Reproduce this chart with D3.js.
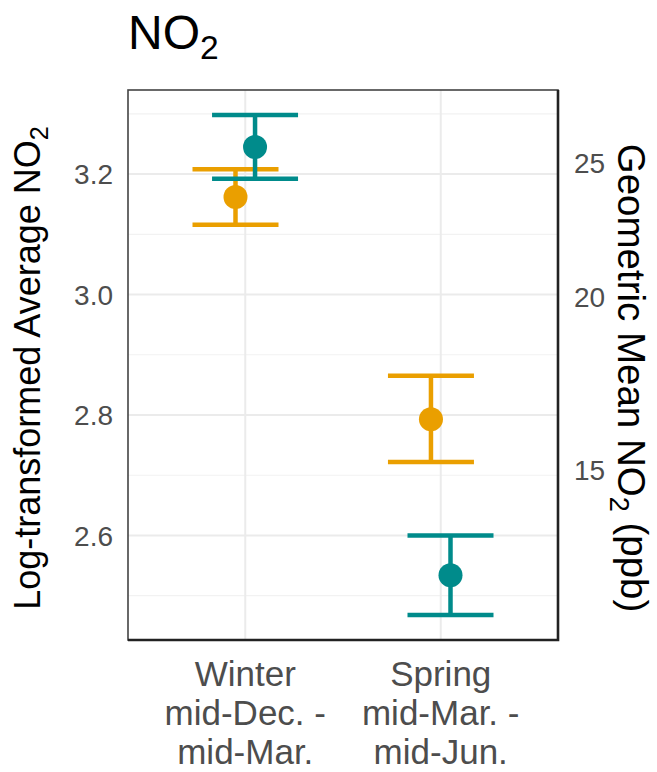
<!DOCTYPE html>
<html>
<head>
<meta charset="utf-8">
<script src="https://cdn.jsdelivr.net/npm/d3@7"></script>
<style>
  html, body { margin: 0; padding: 0; background: #fff; }
  svg { display: block; font-family: "Liberation Sans", Arial, sans-serif; }
</style>
</head>
<body>
<div id="chart"></div>
<script>
// Season categories (multi-line tick labels)
const seasons = ["Winter", "Spring"];
const seasonLines = [
  ["Winter", "mid-Dec. -", "mid-Mar."],
  ["Spring", "mid-Mar. -", "mid-Jun."]
];

// Log-transformed averages with interval bounds, one list per group
const orangeMean = [3.162, 2.793];
const orangeLow  = [3.116, 2.722];
const orangeHigh = [3.208, 2.865];

const tealMean = [3.245, 2.534];
const tealLow  = [3.192, 2.468];
const tealHigh = [3.298, 2.600];

// Axis ticks
const leftTicks  = [2.6, 2.8, 3.0, 3.2];
const minorTicks = [2.5, 2.7, 2.9, 3.1, 3.3];
const rightTicks = [15, 20, 25];

const width = 657, height = 772;
const margin = { top: 90, right: 99, bottom: 132, left: 128 };

const svg = d3.select('#chart')
  .append('svg')
  .attr('width', width)
  .attr('height', height);

// build series rows
const groups = [
  { color: '#EA9F00', dodge: -0.05, mean: orangeMean, low: orangeLow, high: orangeHigh },
  { color: '#008B8B', dodge: 0.05, mean: tealMean, low: tealLow, high: tealHigh }
];
const rows = [];
groups.forEach(g => {
  seasons.forEach((s, i) => {
    rows.push({ season: s, color: g.color, dodge: g.dodge, mean: g.mean[i], low: g.low[i], high: g.high[i] });
  });
});

// scales
const lo = d3.min(rows, d => d.low);
const hi = d3.max(rows, d => d.high);
const pad = (hi - lo) * 0.05;

const y = d3.scaleLinear()
  .domain([lo - pad, hi + pad])
  .range([height - margin.bottom, margin.top]);

const x = d3.scalePoint()
  .domain(seasons)
  .range([margin.left, width - margin.right])
  .padding(0.6);

const xPos = d => x(d.season) + d.dodge * x.step();
const capHalf = 0.22 * x.step();

// grid
const grid = svg.append('g');
grid.selectAll('line.minor')
  .data(minorTicks)
  .enter()
  .append('line')
  .attr('x1', margin.left).attr('x2', width - margin.right)
  .attr('y1', d => y(d)).attr('y2', d => y(d))
  .attr('stroke', '#F2F2F2')
  .attr('stroke-width', 1.2);

grid.selectAll('line.major')
  .data(leftTicks)
  .enter()
  .append('line')
  .attr('x1', margin.left).attr('x2', width - margin.right)
  .attr('y1', d => y(d)).attr('y2', d => y(d))
  .attr('stroke', '#EBEBEB')
  .attr('stroke-width', 2);

grid.selectAll('line.vmajor')
  .data(seasons)
  .enter()
  .append('line')
  .attr('x1', d => x(d)).attr('x2', d => x(d))
  .attr('y1', margin.top).attr('y2', height - margin.bottom)
  .attr('stroke', '#EBEBEB')
  .attr('stroke-width', 2);

// error bars (orange first, teal on top)
const bars = svg.selectAll('g.bar')
  .data(rows)
  .enter()
  .append('g')
  .attr('stroke', d => d.color)
  .attr('stroke-width', 4.5);

bars.append('line')
  .attr('x1', xPos).attr('x2', xPos)
  .attr('y1', d => y(d.low)).attr('y2', d => y(d.high));
bars.append('line')
  .attr('x1', d => xPos(d) - capHalf).attr('x2', d => xPos(d) + capHalf)
  .attr('y1', d => y(d.high)).attr('y2', d => y(d.high));
bars.append('line')
  .attr('x1', d => xPos(d) - capHalf).attr('x2', d => xPos(d) + capHalf)
  .attr('y1', d => y(d.low)).attr('y2', d => y(d.low));

// points
svg.selectAll('circle')
  .data(rows)
  .enter()
  .append('circle')
  .attr('cx', xPos)
  .attr('cy', d => y(d.mean))
  .attr('r', 12)
  .attr('fill', d => d.color);

// panel border (right/bottom a bit heavier, as in the original)
const x0 = margin.left, x1 = width - margin.right;
const y0 = margin.top, y1 = height - margin.bottom;
svg.append('rect')
  .attr('x', x0).attr('y', y0)
  .attr('width', x1 - x0).attr('height', y1 - y0)
  .attr('fill', 'none')
  .attr('stroke', '#444')
  .attr('stroke-width', 1.6);
svg.append('path')
  .attr('d', `M${x1},${y0}V${y1}H${x0}`)
  .attr('fill', 'none')
  .attr('stroke', '#222')
  .attr('stroke-width', 2.6);

// left axis labels
svg.selectAll('text.ly')
  .data(leftTicks)
  .enter()
  .append('text')
  .attr('x', margin.left - 15)
  .attr('y', d => y(d))
  .attr('dy', '0.36em')
  .attr('text-anchor', 'end')
  .style('font-size', '28px')
  .style('fill', '#4D4D4D')
  .text(d => d.toFixed(1));

// right axis (exp of left)
svg.selectAll('text.ry')
  .data(rightTicks)
  .enter()
  .append('text')
  .attr('x', width - margin.right + 16)
  .attr('y', d => y(Math.log(d)))
  .attr('dy', '0.36em')
  .attr('text-anchor', 'start')
  .style('font-size', '28px')
  .style('fill', '#4D4D4D')
  .text(d => d);

// x labels
const xl = svg.selectAll('text.xl')
  .data(seasons)
  .enter()
  .append('text')
  .attr('text-anchor', 'middle')
  .style('font-size', '35px')
  .style('fill', '#4D4D4D');
xl.each(function(d, i) {
  seasonLines[i].forEach((line, j) => {
    d3.select(this).append('tspan')
      .attr('x', x(d))
      .attr('y', 686 + j * 39)
      .text(line);
  });
});

// titles with subscript
function subText(g, before, after) {
  g.append('tspan').text(before);
  g.append('tspan').attr('dy', '0.3em').style('font-size', '70%').text('2');
  if (after) g.append('tspan').attr('dy', '-0.3em').text(after);
}

const midY = (margin.top + height - margin.bottom) / 2;

const title = svg.append('text')
  .attr('x', margin.left)
  .attr('y', 49)
  .style('font-size', '48px')
  .style('fill', '#000');
subText(title, 'NO', null);

const leftTitle = svg.append('text')
  .attr('transform', `translate(40,${midY + 3}) rotate(-90)`)
  .attr('text-anchor', 'middle')
  .style('font-size', '36px')
  .style('fill', '#000');
subText(leftTitle, 'Log-transformed Average NO', null);

const rightTitle = svg.append('text')
  .attr('transform', `translate(618,${midY + 13}) rotate(90)`)
  .attr('text-anchor', 'middle')
  .style('font-size', '38.5px')
  .style('fill', '#000');
subText(rightTitle, 'Geometric Mean NO', ' (ppb)');
</script>
</body>
</html>
